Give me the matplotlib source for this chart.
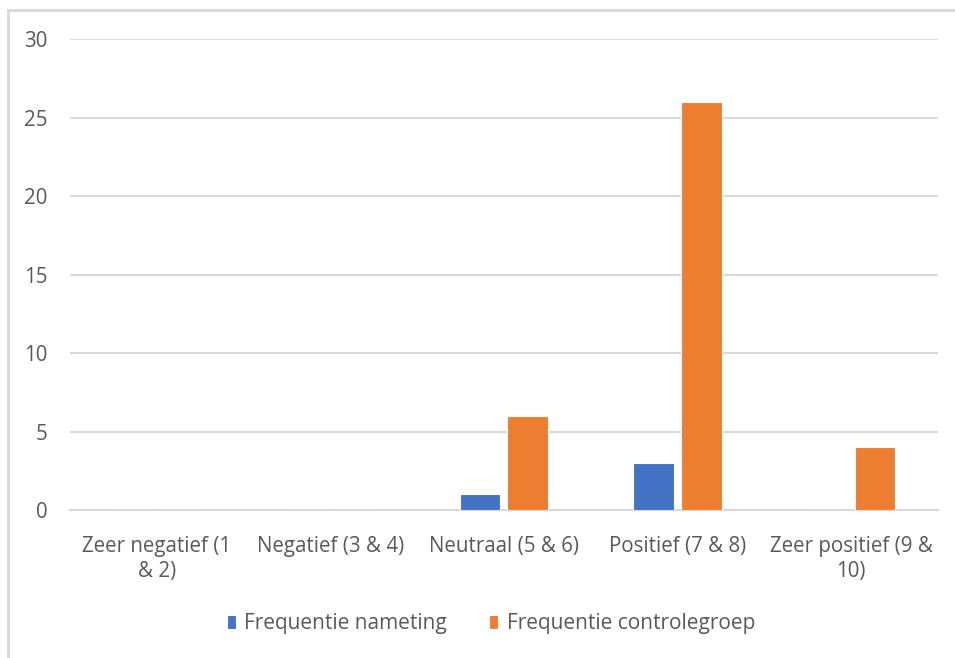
import numpy as np
import matplotlib.pyplot as plt
from matplotlib.lines import Line2D

categories = ["Zeer negatief (1\n& 2)", "Negatief (3 & 4)", "Neutraal (5 & 6)",
              "Positief (7 & 8)", "Zeer positief (9 &\n10)"]
nameting = [0, 0, 1, 3, 0]
controlegroep = [0, 0, 6, 26, 4]
yticks = [0, 5, 10, 15, 20, 25, 30]

blue = "#4472c4"
orange = "#ed7d31"
grid = "#d9d9d9"
txt = "#595959"

plt.rcParams['font.family'] = ['Open Sans', 'DejaVu Sans']

fig = plt.figure(figsize=(9.55, 6.58), dpi=100)
ax = fig.add_axes([0.0733, 0.2249, 0.9087, 0.7158])

x = np.arange(len(categories))
w = 0.235
ax.bar(x - 0.138, nameting, w, color=blue, edgecolor="white", linewidth=0.8,
       label="Frequentie nameting", zorder=3)
ax.bar(x + 0.138, controlegroep, w, color=orange, edgecolor="white", linewidth=0.8,
       label="Frequentie controlegroep", zorder=3)

ax.set_xlim(-0.5, len(categories) - 0.5)
ax.set_ylim(0, 30)
ax.set_yticks(yticks)
ax.yaxis.grid(True, color=grid, linewidth=1.5, zorder=0)
ax.set_axisbelow(True)
for s in ["top", "right", "left"]:
    ax.spines[s].set_visible(False)
ax.spines["bottom"].set_color(grid)
ax.spines["bottom"].set_linewidth(1.5)
ax.spines["bottom"].set_zorder(2)

ax.set_xticks(x)
ax.set_xticklabels(categories, fontsize=14.8, color=txt, linespacing=1.2)
ax.tick_params(axis="x", length=0, pad=19)
ax.tick_params(axis="y", length=0, pad=16, labelsize=14.8, labelcolor=txt)

leg = fig.legend(loc="center", bbox_to_anchor=(0.514, 0.052), ncol=2, frameon=False,
                 fontsize=15, handlelength=0.45, handleheight=0.65, handletextpad=0.4,
                 columnspacing=2.0)
for t in leg.get_texts():
    t.set_color(txt)

# chart border (left and top edges visible)
fig.add_artist(Line2D([8 / 955, 8 / 955], [0, 1 - 10 / 658], transform=fig.transFigure,
                      color=grid, linewidth=2))
fig.add_artist(Line2D([8 / 955, 1], [1 - 10 / 658, 1 - 10 / 658], transform=fig.transFigure,
                      color=grid, linewidth=2))

fig.savefig("out.png", dpi=100, facecolor="white")
